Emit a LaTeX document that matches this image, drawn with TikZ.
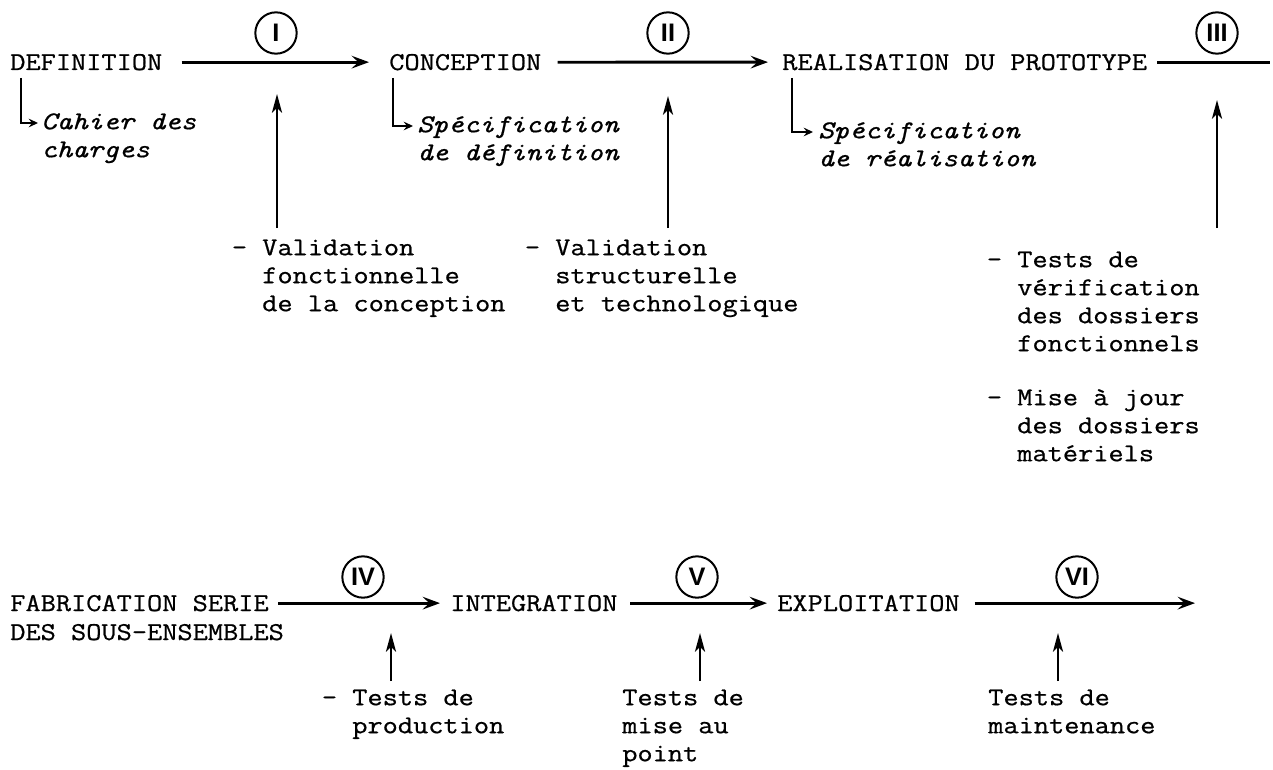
\documentclass[tikz,border=0pt]{standalone}
\usepackage{fontspec}
\setmonofont[FakeStretch=1.15,FakeBold=0.7]{Latin Modern Mono}
\newfontfamily\numfont{Liberation Sans}
\usetikzlibrary{arrows.meta,calc}
% invisible rule giving every label a fixed first-line height (14pt)
\newcommand\lnhead{\rule{0pt}{14pt}}
\tikzset{
  stage/.style={font=\ttfamily\fontsize{19.25pt}{21pt}\selectfont, inner sep=0pt, anchor=base west},
  note/.style={font=\ttfamily\fontsize{19.25pt}{21pt}\selectfont, inner sep=0pt, anchor=north west, align=left},
  spec/.style={font=\ttfamily\itshape\fontsize{19.25pt}{21pt}\selectfont, inner sep=0pt, anchor=north west, align=left},
  phase/.style={circle, draw, line width=1.5pt, minimum size=31pt, inner sep=0pt,
    font=\numfont\bfseries\fontsize{19pt}{19pt}\selectfont},
  flow/.style={line width=2.1pt, -{Stealth[length=13pt,width=9.5pt,inset=5pt]}},
  rise/.style={line width=2pt, -{Stealth[length=14pt,width=7.5pt,inset=3.5pt]}},
  plain/.style={line width=2.1pt},
  hook/.style={line width=1.6pt, -{Stealth[length=7pt,width=6.5pt,inset=2.5pt]}},
}
\begin{document}
\begin{tikzpicture}[x=0.75pt,y=-0.75pt]
\useasboundingbox (0,0) rectangle (1273,770);
\fill[white] (0,0) rectangle (1273,770);

% ---- first row: stages I to III
\node[stage] (def)  at (10,70)  {DEFINITION};
\node[stage] (conc) at (389,70) {CONCEPTION};
\node[stage] (real) at (782,70) {REALISATION DU PROTOTYPE};

\node[spec] (cah)   at (41,110.3)  {\lnhead Cahier des\\charges};
\node[spec] (sdef)  at (417,113.3) {\lnhead Spécification\\de définition};
\node[spec] (sreal) at (818,119.3) {\lnhead Spécification\\de réalisation};

\node[phase] (p1) at (276,33)  {I};
\node[phase] (p2) at (668,33)  {II};
\node[phase] (p3) at (1217,33) {III};

\coordinate (edge3) at (1270,0);
\draw[flow] ([xshift=14.25pt]def.east) -- ([xshift=-15pt]conc.west);
\draw[flow] ([xshift=12pt]conc.east) -- ([xshift=-10.5pt]real.west);
\draw[plain] ([xshift=7.5pt]real.east) -- (real.east -| edge3);

\draw[hook] ($(def.base west)+(11,8)$)  |- ($(cah.north west)+(-3,12.7)$);
\draw[hook] ($(conc.base west)+(4,8)$)  |- ($(sdef.north west)+(-4,12.7)$);
\draw[hook] ($(real.base west)+(10,8)$) |- ($(sreal.north west)+(-5,12.7)$);

\node[note] (v1) at (262,236.3) {\lnhead\llap{- }Validation\\fonctionnelle\\de la conception};
\node[note] (v2) at (555,236.3) {\lnhead\llap{- }Validation\\structurelle\\et technologique};
\node[note] (t3) at (1017,248.3) {\lnhead\llap{- }Tests de\\vérification\\des dossiers\\fonctionnels};
\node[note] (m3) at (1017,386.3) {\lnhead\llap{- }Mise à jour\\des dossiers\\matériels};

\coordinate (u1) at (277,228);  \coordinate (h1) at (277,94);
\coordinate (u2) at (668,228);  \coordinate (h2) at (668,96);
\coordinate (u3) at (1217,228); \coordinate (h3) at (1217,100);
\draw[rise] (u1) -- (h1);
\draw[rise] (u2) -- (h2);
\draw[rise] (u3) -- (h3);

% ---- second row: stages IV to VI
\node[stage] (fab)   at (10,611)  {FABRICATION SERIE};
\node[stage] (fab2)  at (10,640)  {DES SOUS-ENSEMBLES};
\node[stage] (integ) at (450,611) {INTEGRATION};
\node[stage] (expl)  at (777,611) {EXPLOITATION};

\node[phase] (p4) at (363,577)  {IV};
\node[phase] (p5) at (697,577)  {V};
\node[phase] (p6) at (1077,577) {VI};

\coordinate (end6) at (1195,0);
\draw[flow] ([xshift=7pt]fab.east) -- ([xshift=-7.5pt]integ.west);
\draw[flow] ([xshift=9.4pt]integ.east) -- ([xshift=-7.5pt]expl.west);
\draw[flow] ([xshift=11pt]expl.east) -- (expl.east -| end6);

\node[note] (tp)  at (352,686.3) {\lnhead\llap{- }Tests de\\production};
\node[note] (tm)  at (622,686.3) {\lnhead Tests de\\mise au\\point};
\node[note] (tmt) at (988,686.3) {\lnhead Tests de\\maintenance};

\coordinate (u4) at (391,681);  \coordinate (h4) at (391,633);
\coordinate (u5) at (700,681);  \coordinate (h5) at (700,633);
\coordinate (u6) at (1058,681); \coordinate (h6) at (1058,633);
\draw[rise] (u4) -- (h4);
\draw[rise] (u5) -- (h5);
\draw[rise] (u6) -- (h6);
\end{tikzpicture}
\end{document}
